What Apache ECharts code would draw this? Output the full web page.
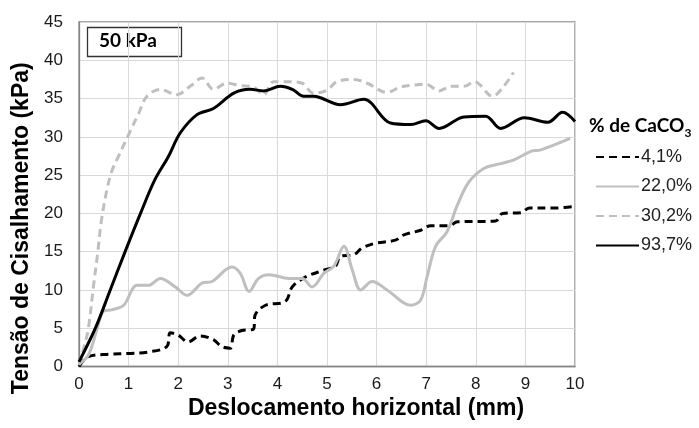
<!DOCTYPE html>
<html>
<head>
<meta charset="utf-8">
<script src="https://cdn.jsdelivr.net/npm/echarts@6/dist/echarts.min.js"></script>
<style>html,body{margin:0;padding:0;background:#fff;}#c{width:699px;height:428px;}</style>
</head>
<body>
<div id="c"></div>
<script>
const seriesNames = ['4,1%', '22,0%', '30,2%', '93,7%'];

const x41 = [0, 0.19, 0.6, 1.0, 1.4, 1.77, 1.84, 2.0, 2.2, 2.44, 2.71, 2.88, 3.05, 3.12, 3.28, 3.52, 3.55, 3.76, 4.16, 4.3, 4.57, 4.94, 5.17, 5.27, 5.54, 5.71, 5.98, 6.38, 6.55, 6.89, 7.09, 7.46, 7.63, 8.4, 8.54, 8.91, 9.08, 9.58, 10];
const y41 = [0, 1.3, 1.6, 1.7, 1.9, 2.6, 4.4, 4.1, 3.2, 4.0, 3.5, 2.6, 2.4, 4.1, 4.7, 4.9, 6.7, 8.0, 8.5, 10.4, 11.7, 12.6, 13.1, 14.4, 14.6, 15.5, 16.1, 16.5, 17.2, 17.8, 18.4, 18.4, 18.9, 19.0, 20.0, 20.1, 20.7, 20.7, 20.9];

const x22 = [0, 0.19, 0.36, 0.49, 0.66, 0.9, 1.17, 1.4, 1.64, 1.94, 2.18, 2.48, 2.68, 3.08, 3.25, 3.43, 3.62, 3.83, 4.23, 4.5, 4.7, 4.94, 5.14, 5.34, 5.51, 5.68, 5.91, 6.21, 6.69, 6.89, 7.02, 7.19, 7.42, 7.63, 7.86, 8.17, 8.5, 8.77, 9.11, 9.31, 9.9];
const y22 = [0.3, 1.5, 4.8, 7.2, 7.4, 8.0, 10.6, 10.6, 11.5, 10.4, 9.3, 10.9, 11.1, 13.0, 12.2, 9.8, 11.5, 12.0, 11.5, 11.5, 10.4, 12.2, 13.1, 15.7, 12.6, 10.0, 11.1, 10.0, 8.0, 8.7, 11.8, 15.7, 17.6, 21.1, 24.1, 25.9, 26.5, 27.0, 28.1, 28.3, 29.8];

const x30 = [0, 0.12, 0.19, 0.29, 0.38, 0.45, 0.56, 0.66, 0.8, 1.0, 1.2, 1.37, 1.64, 1.97, 2.24, 2.48, 2.71, 2.98, 3.25, 3.52, 3.72, 3.92, 4.26, 4.5, 4.73, 5.0, 5.2, 5.54, 5.81, 6.21, 6.48, 6.82, 6.99, 7.26, 7.5, 7.76, 7.97, 8.34, 8.54, 8.76];
const y30 = [0.2, 3.0, 5.0, 10.4, 15.0, 19.0, 23.0, 25.5, 27.5, 30.3, 33.0, 35.3, 36.2, 35.5, 36.6, 37.7, 36.2, 37.0, 36.7, 36.5, 35.5, 37.2, 37.2, 37.0, 35.7, 36.1, 37.2, 37.5, 37.0, 35.8, 36.5, 36.8, 36.9, 36.0, 36.6, 36.6, 37.2, 35.3, 36.4, 38.4];

const x93 = [0, 0.33, 0.63, 0.93, 1.24, 1.53, 1.8, 2.04, 2.38, 2.71, 3.12, 3.45, 3.72, 4.06, 4.3, 4.53, 4.73, 4.87, 5.27, 5.74, 6.28, 6.69, 6.99, 7.26, 7.76, 8.2, 8.5, 8.98, 9.45, 9.75, 10];
const y93 = [0.6, 5.0, 10.0, 15.0, 20.0, 24.4, 27.4, 30.5, 32.9, 33.7, 35.7, 36.2, 36.0, 36.6, 36.2, 35.3, 35.3, 35.1, 34.2, 34.9, 31.8, 31.6, 32.1, 31.1, 32.6, 32.7, 31.1, 32.5, 31.9, 33.2, 32.0];

function zip(xs, ys) { return xs.map((x, i) => [x, ys[i]]); }

const chart = echarts.init(document.getElementById('c'), null, {renderer: 'canvas'});
const font = '"Liberation Sans", Arial, sans-serif';
const dash = [8, 5];

function line(name, data, color, type) {
  return {
    name: name, type: 'line', data: data, smooth: 0.35, symbol: 'none', showSymbol: false,
    lineStyle: {color: color, width: 3, type: type},
    itemStyle: {color: color}
  };
}

chart.setOption({
  animation: false,
  backgroundColor: '#fff',
  grid: {left: 79, right: 124, top: 22, bottom: 61.5, show: true, borderColor: '#888', borderWidth: 1.3, backgroundColor: 'transparent'},
  xAxis: {
    type: 'value', min: 0, max: 10, interval: 1,
    name: 'Deslocamento horizontal (mm)', nameLocation: 'middle', nameGap: 29,
    nameTextStyle: {fontFamily: font, fontWeight: 'bold', fontSize: 23, color: '#000', padding: [0, 0, 0, 58]},
    axisLine: {show: true, lineStyle: {color: '#888', width: 1.3}},
    axisTick: {show: false},
    axisLabel: {fontFamily: font, fontSize: 17, color: '#1a1a1a', margin: 9},
    splitLine: {show: true, lineStyle: {color: '#d9d9d9', width: 1}}
  },
  yAxis: {
    type: 'value', min: 0, max: 45, interval: 5,
    name: 'Tensão de Cisalhamento (kPa)', nameLocation: 'middle', nameGap: 35,
    nameTextStyle: {fontFamily: font, fontWeight: 'bold', fontSize: 23, color: '#000', padding: [0, 68, 0, 0]},
    axisLine: {show: true, lineStyle: {color: '#888', width: 1.3}},
    axisTick: {show: false},
    axisLabel: {fontFamily: font, fontSize: 17, color: '#1a1a1a', margin: 16},
    splitLine: {show: true, lineStyle: {color: '#d9d9d9', width: 1}}
  },
  legend: {
    orient: 'vertical', left: 595, top: 148, padding: 0, itemWidth: 43, itemHeight: 14, itemGap: 11.5,
    itemStyle: {opacity: 0},
    textStyle: {fontFamily: font, fontSize: 18, color: '#222', lineHeight: 18, padding: [0, 0, 0, -3]},
    data: seriesNames
  },
  graphic: [
    {type: 'rect', shape: {x: 87.5, y: 27.5, width: 94, height: 29}, style: {fill: '#fff', stroke: '#333', lineWidth: 1.3}},
    {type: 'text', left: 99, top: 31, style: {text: '50 kPa', font: 'bold 19px Lato, "Open Sans", sans-serif', fill: '#000'}},
    {type: 'text', left: 589, top: 116, style: {
      text: '{a|% de CaCO}{b|3}',
      rich: {
        a: {font: 'bold 19px Lato, "Open Sans", sans-serif', fill: '#000', verticalAlign: 'bottom'},
        b: {font: 'bold 12px Lato, "Open Sans", sans-serif', fill: '#000', verticalAlign: 'bottom', padding: [0, 0, -4, 0]}
      }
    }}
  ],
  series: [
    line(seriesNames[0], zip(x41, y41), '#000', dash),
    line(seriesNames[1], zip(x22, y22), '#bfbfbf', 'solid'),
    line(seriesNames[2], zip(x30, y30), '#bfbfbf', dash),
    line(seriesNames[3], zip(x93, y93), '#000', 'solid')
  ]
});
</script>
</body>
</html>
